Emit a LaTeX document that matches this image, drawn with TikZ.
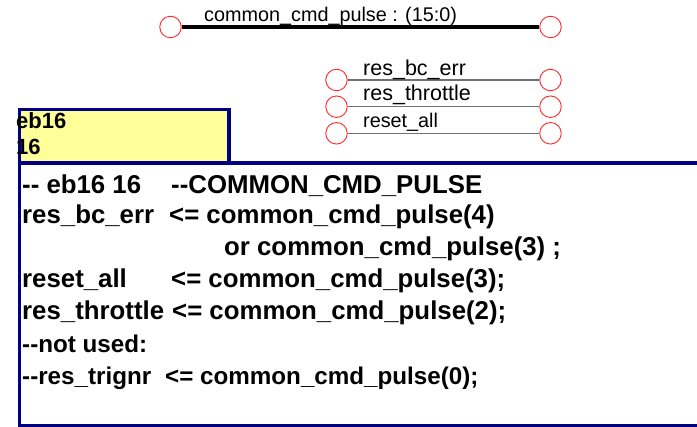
\documentclass[tikz,border=0pt]{standalone}
\usepackage{fontspec}
\setmainfont{Liberation Sans}
\definecolor{navyb}{HTML}{000080}
\definecolor{paley}{HTML}{FFFF99}
\definecolor{portred}{HTML}{FF2A2A}
\definecolor{sigray}{HTML}{707070}
\tikzset{
  port/.style={circle, draw=portred, fill=white, line width=0.9pt, minimum size=21.5pt, inner sep=0pt},
  siglabel/.style={anchor=base west, inner sep=0pt, font=\fontsize{21.5}{24}\selectfont},
  busline/.style={line width=4pt, black},
  sigline/.style={line width=1.5pt, sigray},
  codebig/.style={anchor=base west, inner sep=0pt, font=\fontsize{25.8}{30}\selectfont\bfseries},
  codesmall/.style={anchor=base west, inner sep=0pt, font=\fontsize{24.2}{28}\selectfont\bfseries},
  frame/.style={draw=navyb, line width=3.5pt},
}
\begin{document}
\begin{tikzpicture}[x=1pt, y=-1pt]
\useasboundingbox (0,0) rectangle (697,427);
% main box
\fill[white] (19.5,163) rectangle (720,425.5);
\draw[frame] (720,163) -- (19.5,163) -- (19.5,425.5) -- (720,425.5);
% yellow title box
\draw[frame, fill=paley] (19.5,109.5) rectangle (229,163);
\node[anchor=base west, inner sep=0pt, font=\fontsize{22}{24}\selectfont\bfseries] (t1) at (16,129) {eb16};
\node[anchor=base west, inner sep=0pt, font=\fontsize{22}{24}\selectfont\bfseries] (t2) at (16,155) {16};
% bus
\node[port] (bl) at (170.5,27) {};
\node[port] (br) at (550.5,27) {};
\draw[busline] (bl) -- (br);
\node[siglabel, font=\fontsize{19.8}{22}\selectfont] (bus) at (204,21.7) {common\_cmd\_pulse : (15:0)};
% signals
\node[port] (p1l) at (336.5,80) {};
\node[port] (p1r) at (550.5,80) {};
\node[port] (p2l) at (336.5,106.7) {};
\node[port] (p2r) at (550.5,106.7) {};
\node[port] (p3l) at (336.5,133.3) {};
\node[port] (p3r) at (550.5,133.3) {};
\draw[sigline] (p1l) -- (p1r);
\draw[sigline] (p2l) -- (p2r);
\draw[sigline] (p3l) -- (p3r);
\node[siglabel] (s1) at (363,75.7) {res\_bc\_err};
\node[siglabel] (s2) at (363,101) {res\_throttle};
\node[siglabel, font=\fontsize{19.8}{22}\selectfont] (s3) at (363,127.7) {reset\_all};
% code
\node[codebig] (c1a) at (22,194) {-{}- eb16 16};
\node[codebig] (c1b) at (171,194) {-{}-COMMON\_CMD\_PULSE};
\node[codebig] (c2a) at (22,224) {res\_bc\_err};
\node[codebig] (c2b) at (169,224) {<= common\_cmd\_pulse(4)};
\node[codebig] (c3b) at (224,256) {or common\_cmd\_pulse(3) ;};
\node[codebig] (c4a) at (22,288) {reset\_all};
\node[codebig] (c4b) at (171,288) {<= common\_cmd\_pulse(3);};
\node[codebig] (c5a) at (22,320) {res\_throttle};
\node[codebig] (c5b) at (172,320) {<= common\_cmd\_pulse(2);};
\node[codesmall] (c6a) at (22,353) {-{}-not used:};
\node[codesmall] (c7a) at (22,385) {-{}-res\_trignr};
\node[codesmall] (c7b) at (165,385) {<= common\_cmd\_pulse(0);};
\end{tikzpicture}
\end{document}
